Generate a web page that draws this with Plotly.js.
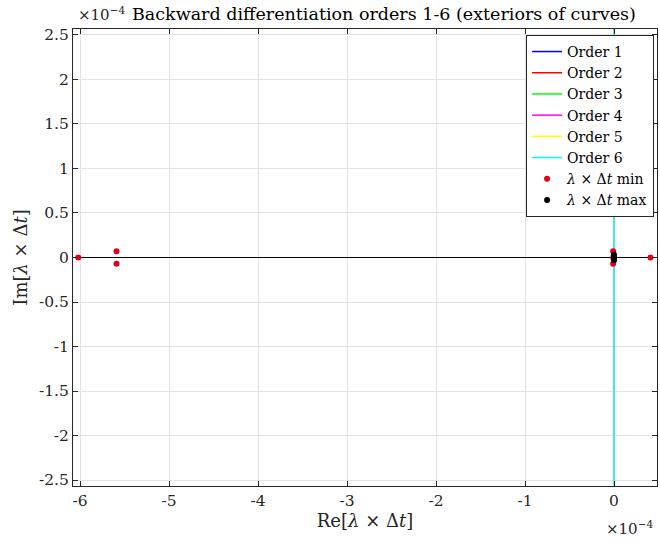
<!DOCTYPE html>
<html><head><meta charset="utf-8">
<script src="https://cdn.plot.ly/plotly-3.0.1.min.js"></script>
<style>body{margin:0;background:#fff}#c{width:660px;height:543px}</style>
</head><body><div id="c"></div>
<script>
// values in units of 1e-4
const orderNames = ['Order 1','Order 2','Order 3','Order 4','Order 5','Order 6'];
const orderColors = ['#0000ff','#ff0000','#00ff00','#ff00ff','#ffff00','#00ffff'];
const curveRe = [0, 0];
const curveIm = [-3, 3];
const minRe = [-6.02, -5.59, -5.59, 0.41, -0.01, -0.01, -0.01];
const minIm = [0, 0.07, -0.07, 0, 0.07, -0.07, 0];
const maxRe = [0, 0, 0];
const maxIm = [0, 0.03, -0.03];
const axisRe = [-7, 1];
const axisIm = [0, 0];
const xTicks = [-6,-5,-4,-3,-2,-1,0];
const yTicks = [-2.5,-2,-1.5,-1,-0.5,0,0.5,1,1.5,2,2.5];
const fmt = v => String(v);

const traces = [];
traces.push({x: axisRe, y: axisIm, mode:'lines', line:{color:'#000', width:1}, showlegend:false, hoverinfo:'skip'});
orderNames.forEach((n,i)=>traces.push({x: curveRe, y: curveIm, mode:'lines', name:n, line:{color:orderColors[i], width:1.5}}));
traces.push({x:minRe, y:minIm, mode:'markers', name:'<i>λ</i> × Δ<i>t</i> min', marker:{color:'#e0001b', size:6}});
traces.push({x:maxRe, y:maxIm, mode:'markers', name:'<i>λ</i> × Δ<i>t</i> max', marker:{color:'#000', size:6}});

const fam = 'DejaVu Serif, Liberation Serif, serif';
const font = {family:fam, size:15, color:'#262626'};
const layout = {
  width:660, height:543,
  margin:{l:73, r:3, t:29, b:57},
  paper_bgcolor:'#fff', plot_bgcolor:'#fff',
  font: font,
  showlegend:true,
  legend:{x:0.995, y:0.987, xanchor:'right', yanchor:'top', bgcolor:'#fff', bordercolor:'#262626', borderwidth:1, font:{family:fam, size:14, color:'#000'}, tracegroupgap:0, itemwidth:30},
  xaxis:{range:[-6.079,0.483], tickvals:xTicks, ticktext:xTicks.map(fmt), ticks:'inside', ticklen:5, tickcolor:'#262626',
    showgrid:true, gridcolor:'#e3e3e3', zeroline:false, showline:true, linecolor:'#262626', mirror:'ticks', linewidth:1,
    title:{text:'Re[<i>λ</i> × Δ<i>t</i>]', font:{family:fam, size:18, color:'#262626'}, standoff:5}, tickfont:{size:15.5}},
  yaxis:{range:[-2.567,2.567], tickvals:yTicks, ticktext:yTicks.map(fmt), ticks:'inside', ticklen:5, tickcolor:'#262626',
    showgrid:true, gridcolor:'#e3e3e3', zeroline:false, showline:true, linecolor:'#262626', mirror:'ticks', linewidth:1,
    title:{text:'Im[<i>λ</i> × Δ<i>t</i>]', font:{family:fam, size:18, color:'#262626'}, standoff:6}, tickfont:{size:15.5}},
  annotations:[
    {xref:'paper', yref:'paper', x:0.0925, y:1, yshift:3, xanchor:'right', yanchor:'bottom', showarrow:false,
     text:'×10<sup>−4</sup>', font:{family:fam, size:15, color:'#262626'}},
    {xref:'paper', yref:'paper', x:0.0976, y:1, yshift:3, xanchor:'left', yanchor:'bottom', showarrow:false,
     text:'Backward differentiation orders 1-6 (exteriors of curves)', font:{family:fam, size:17.5, color:'#000'}},
    {xref:'x', yref:'paper', x:0, y:0, yshift:-30, xanchor:'left', yanchor:'top', xshift:-10, showarrow:false,
     text:'×10<sup>−4</sup>', font:{family:fam, size:15, color:'#262626'}}
  ]
};
Plotly.newPlot('c', traces, layout, {displayModeBar:false, staticPlot:true});
</script></body></html>
